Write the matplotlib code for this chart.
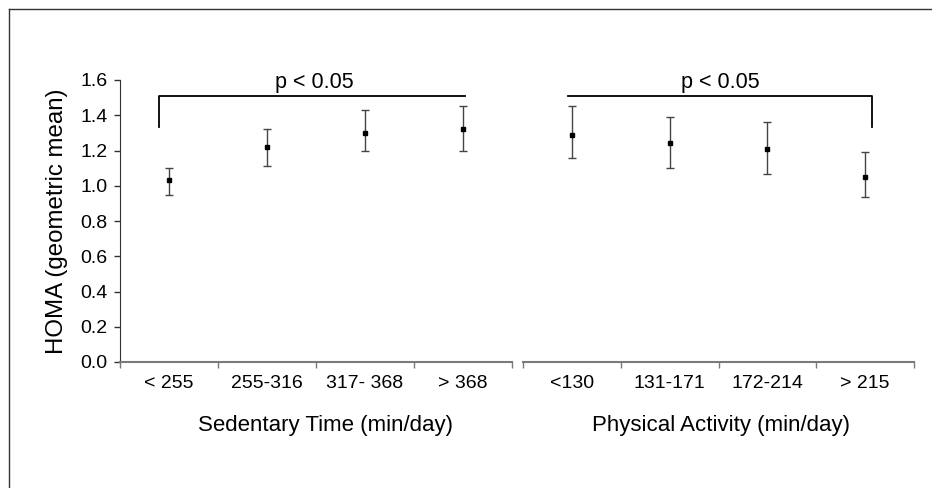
import matplotlib
matplotlib.use("Agg")
import matplotlib.pyplot as plt
from matplotlib.lines import Line2D

plt.rcParams['font.family'] = ['Liberation Sans', 'DejaVu Sans']

# sedentary time panel
sed_labels = ['< 255', '255-316', '317- 368', '> 368']
sed_mean = [1.03, 1.22, 1.30, 1.32]
sed_low = [0.95, 1.11, 1.20, 1.20]
sed_high = [1.10, 1.32, 1.43, 1.45]

# physical activity panel
pa_labels = ['<130', '131-171', '172-214', '> 215']
pa_mean = [1.29, 1.24, 1.21, 1.05]
pa_low = [1.155, 1.10, 1.065, 0.935]
pa_high = [1.455, 1.39, 1.36, 1.19]

yticks = [0.0, 0.2, 0.4, 0.6, 0.8, 1.0, 1.2, 1.4, 1.6]
bracket_y = 1.51
bracket_leg = 1.335

fig = plt.figure(figsize=(9.32, 4.88), dpi=100)
ax1 = fig.add_axes([120/932, 126/488, 392/932, 282/488])
ax2 = fig.add_axes([523/932, 126/488, 391/932, 282/488])

axis_grey = '#7a7a7a'


def draw_panel(ax, labels, mean, low, high):
    xs = [i + 0.5 for i in range(len(labels))]
    err = [[m - l for m, l in zip(mean, low)], [h - m for m, h in zip(mean, high)]]
    ax.errorbar(xs, mean, yerr=err, fmt='s', color='black', ms=3.5,
                ecolor='#444444', elinewidth=1.0, capsize=3, capthick=1.0)
    ax.set_xlim(0, len(labels))
    ax.set_ylim(0, 1.6)
    ax.set_xticks(range(len(labels) + 1))
    ax.set_xticklabels([])
    ax.set_xticks(xs, minor=True)
    ax.set_xticklabels(labels, minor=True, fontsize=14)
    ax.tick_params(axis='x', which='minor', length=0, pad=9)
    ax.tick_params(axis='x', which='major', length=4, width=1, color=axis_grey)
    ax.spines['top'].set_visible(False)
    ax.spines['right'].set_visible(False)
    ax.spines['bottom'].set_color(axis_grey)
    ax.spines['bottom'].set_linewidth(1.5)
    return xs


xs1 = draw_panel(ax1, sed_labels, sed_mean, sed_low, sed_high)
xs2 = draw_panel(ax2, pa_labels, pa_mean, pa_low, pa_high)

ax1.set_yticks(yticks)
ax1.set_yticklabels(['%.1f' % v for v in yticks], fontsize=14)
ax1.tick_params(axis='y', length=4, width=1, color='#333333', pad=5)
ax1.spines['left'].set_color('#333333')
ax1.set_ylabel('HOMA (geometric mean)', fontsize=17.3, labelpad=9)

ax2.spines['left'].set_visible(False)
ax2.set_yticks([])

# significance brackets
ax1.plot([xs1[0] - 0.1, xs1[0] - 0.1, xs1[-1] + 0.02], [bracket_leg, bracket_y, bracket_y],
         color='black', lw=1.3, clip_on=False)
ax1.text((xs1[0] + xs1[-1]) / 2 - 0.02, 1.555, 'p < 0.05', ha='center', va='baseline', fontsize=15.5)
ax2.plot([xs2[0] - 0.04, xs2[-1] + 0.07, xs2[-1] + 0.07], [bracket_y, bracket_y, bracket_leg],
         color='black', lw=1.3, clip_on=False)
ax2.text((xs2[0] + xs2[-1]) / 2 + 0.02, 1.555, 'p < 0.05', ha='center', va='baseline', fontsize=15.5)

fig.text(325/932, 1 - 426/488, 'Sedentary Time (min/day)', ha='center', va='center', fontsize=16)
fig.text(721/932, 1 - 426/488, 'Physical Activity (min/day)', ha='center', va='center', fontsize=16)

# outer frame (top and left edges)
fig.add_artist(Line2D([9/932, 9/932], [0, 1 - 9/488], color='#333333', lw=1, transform=fig.transFigure))
fig.add_artist(Line2D([9/932, 1], [1 - 9/488, 1 - 9/488], color='#333333', lw=1, transform=fig.transFigure))

fig.savefig('out.png', dpi=100)
